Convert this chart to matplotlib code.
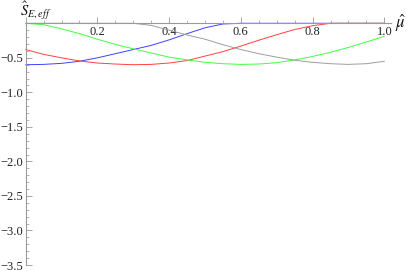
import matplotlib.pyplot as plt
from matplotlib.ticker import MultipleLocator, FuncFormatter

plt.rcParams['mathtext.fontset'] = 'stix'
plt.rcParams['font.family'] = ['Liberation Serif', 'DejaVu Serif']

# values
mu = [0.0, 0.05, 0.1, 0.15, 0.2, 0.25, 0.3, 0.35, 0.4, 0.45, 0.5,
      0.55, 0.6, 0.65, 0.7, 0.75, 0.8, 0.85, 0.9, 0.95, 1.0]

s_blue = [-0.60, -0.595, -0.58, -0.55, -0.50, -0.44, -0.38, -0.32, -0.24, -0.15, -0.065,
          -0.01, 0.0, 0.0, 0.0, 0.0, 0.0, 0.0, 0.0, 0.0, 0.0]
s_red = [-0.38, -0.45, -0.50, -0.545, -0.575, -0.59, -0.60, -0.595, -0.575, -0.54, -0.475,
         -0.41, -0.33, -0.245, -0.165, -0.09, -0.035, 0.0, 0.0, 0.0, 0.0]
s_green = [0.0, -0.02, -0.08, -0.15, -0.23, -0.305, -0.37, -0.43, -0.49, -0.53, -0.565,
           -0.585, -0.595, -0.59, -0.57, -0.53, -0.48, -0.42, -0.35, -0.27, -0.19]
s_gray = [0.0, 0.0, 0.0, 0.0, 0.0, 0.0, 0.0, -0.03, -0.10, -0.17, -0.23,
          -0.31, -0.38, -0.44, -0.49, -0.535, -0.565, -0.585, -0.595, -0.585, -0.55]

fig = plt.figure(figsize=(4.07, 2.71), dpi=100)
ax = fig.add_axes([25.7 / 407, 6 / 271, 358.6 / 407, 241.7 / 271])

ax.plot(mu, s_blue, color=(0.25, 0.25, 1.0), lw=0.7, clip_on=False)
ax.plot(mu, s_red, color=(1.0, 0.25, 0.25), lw=0.7, clip_on=False)
ax.plot(mu, s_green, color=(0.25, 1.0, 0.25), lw=0.7, clip_on=False)
ax.plot(mu, s_gray, color=(0.62, 0.62, 0.62), lw=0.7, clip_on=False)

ax.set_xlim(0, 1.0)
ax.set_ylim(-3.5, 0)

axis_col = '#999999'
for side in ['top', 'right']:
    ax.spines[side].set_visible(False)
ax.spines['left'].set_position(('data', 0))
ax.spines['bottom'].set_position(('data', 0))
ax.spines['left'].set_color(axis_col)
ax.spines['bottom'].set_color(axis_col)
ax.spines['left'].set_linewidth(0.8)
ax.spines['bottom'].set_linewidth(0.8)
ax.spines['bottom'].set_bounds(0, 1.02)

ax.xaxis.set_major_locator(MultipleLocator(0.2))
ax.xaxis.set_minor_locator(MultipleLocator(0.05))
ax.yaxis.set_major_locator(MultipleLocator(0.5))
ax.yaxis.set_minor_locator(MultipleLocator(0.1))

ax.xaxis.set_major_formatter(FuncFormatter(lambda v, p: '' if abs(v) < 1e-9 else f'{v:.1f}'))
ax.yaxis.set_major_formatter(FuncFormatter(
    lambda v, p: '' if abs(v) < 1e-9 else '\u2212' + f'{abs(v):.1f}'))

ax.tick_params(axis='x', which='major', direction='in', length=4, width=0.6,
               color=axis_col, labelsize=9, pad=2)
ax.tick_params(axis='x', which='minor', direction='in', length=2, width=0.5, color=axis_col)
ax.tick_params(axis='y', which='major', direction='in', length=4, width=0.6,
               color=axis_col, labelsize=9, pad=2)
ax.tick_params(axis='y', which='minor', direction='in', length=2, width=0.5, color=axis_col)
ax.tick_params(labelcolor='#222222')

ax.text(-0.015, 0.02, r'$\hat{S}_{E,eff}$', fontsize=10.5,
        ha='left', va='bottom', color='#111111')
ax.text(1.03, 0.0, r'$\hat{\mu}$', fontsize=12, ha='left', va='center', color='#111111')

fig.savefig('out.png', dpi=100)
